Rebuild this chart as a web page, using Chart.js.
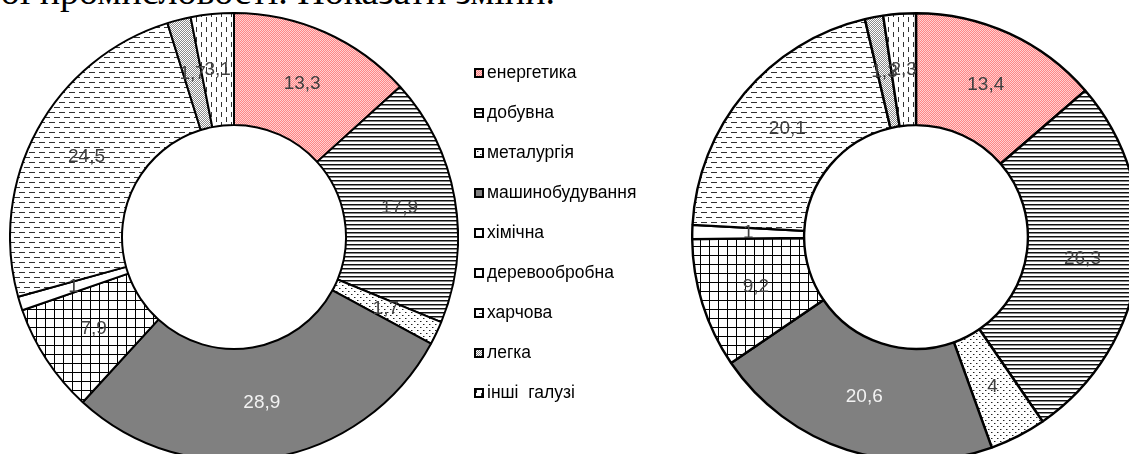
<!DOCTYPE html>
<html lang="uk">
<head>
<meta charset="utf-8">
<script src="https://cdn.jsdelivr.net/npm/chart.js@4"></script>
<style>
    html, body {
        margin: 0;
        padding: 0;
        width: 1129px;
        height: 454px;
        overflow: hidden;
        background: #fff;
        position: relative;
    }
    .title {
        position: absolute;
        left: -36px;
        top: -28px;
        font: 38px/38px "Liberation Serif", "Times New Roman", serif;
        color: #000;
        white-space: nowrap;
    }
    .chart-box {
        position: absolute;
        width: 450px;
        height: 450px;
        top: 12px;
    }
    #boxBefore { left: 9px; }
    #boxAfter { left: 691px; }
    .legend {
        position: absolute;
        left: 474px;
        top: 62px;
        font: 17.5px "Liberation Sans", Arial, sans-serif;
        color: #000;
    }
    .legend-item {
        height: 40px;
        display: flex;
        align-items: flex-start;
        white-space: pre;
    }
    .legend-item canvas {
        margin-top: 6px;
        margin-right: 3px;
    }
</style>
</head>
<body>
<div class="title">ової промисловості. Показати зміни.</div>
<div class="chart-box" id="boxBefore"><canvas id="chartBefore"></canvas></div>
<div class="legend" id="legend"></div>
<div class="chart-box" id="boxAfter"><canvas id="chartAfter"></canvas></div>

<script>
// Branch structure, % (left chart - before, right chart - after)
const categories = ['енергетика', 'добувна', 'металургія', 'машинобудування', 'хімічна',
    'деревообробна', 'харчова', 'легка', 'інші  галузі'];
const valuesBefore = [13.3, 17.9, 1.7, 28.9, 7.9, 1, 24.5, 1.7, 3.1];
const valuesAfter = [13.4, 26.3, 4, 20.6, 9.2, 1, 20.1, 1.3, 2.3];

/**
 * Build a repeating fill pattern from a small tile
 */
function makePattern(w, h, draw) {
    const tile = document.createElement('canvas');
    tile.width = w;
    tile.height = h;
    const t = tile.getContext('2d');
    t.fillStyle = '#fff';
    t.fillRect(0, 0, w, h);
    draw(t);
    return t.createPattern(tile, 'repeat');
}

const fills = [
    // енергетика - pink dotted
    makePattern(2, 2, t => {
        t.fillStyle = '#ffd0d0';
        t.fillRect(0, 0, 2, 2);
        t.fillStyle = '#ff8484';
        t.fillRect(0, 0, 1, 1);
        t.fillRect(1, 1, 1, 1);
    }),
    // добувна - horizontal lines
    makePattern(4, 4, t => {
        t.fillStyle = '#111';
        t.fillRect(0, 0, 4, 1);
        t.fillStyle = '#888';
        t.fillRect(0, 1, 4, 1);
    }),
    // металургія - sparse dots
    makePattern(6, 6, t => {
        t.fillStyle = '#222';
        t.fillRect(0, 0, 1, 1);
        t.fillRect(3, 3, 1, 1);
        t.fillStyle = '#999';
        t.fillRect(1, 0, 1, 1);
        t.fillRect(4, 3, 1, 1);
    }),
    // машинобудування - solid gray
    '#808080',
    // хімічна - square grid
    makePattern(9, 9, t => {
        t.fillStyle = '#000';
        t.fillRect(0, 0, 9, 1);
        t.fillRect(0, 0, 1, 9);
    }),
    // деревообробна - white
    '#ffffff',
    // харчова - dashed horizontal
    makePattern(10, 10, t => {
        t.fillStyle = '#333';
        t.fillRect(0, 0, 6, 1);
        t.fillRect(5, 5, 5, 1);
        t.fillRect(0, 5, 1, 1);
    }),
    // легка - dense gray dots
    makePattern(2, 2, t => {
        t.fillStyle = '#8a8a8a';
        t.fillRect(0, 0, 1, 1);
        t.fillRect(1, 1, 1, 1);
    }),
    // інші галузі - vertical dashes
    makePattern(10, 10, t => {
        t.fillStyle = '#333';
        t.fillRect(2, 0, 1, 5);
        t.fillRect(7, 5, 1, 5);
    })
];

const labelColors = ['#404040', '#404040', '#404040', '#f2f2f2', '#404040',
    '#404040', '#404040', '#404040', '#404040'];

// Draws value labels in the middle of each ring segment
const valueLabels = {
    id: 'valueLabels',
    afterDatasetsDraw(chart) {
        const ctx = chart.ctx;
        const meta = chart.getDatasetMeta(0);
        const data = chart.data.datasets[0].data;
        ctx.save();
        ctx.font = '19px "Liberation Sans", Arial, sans-serif';
        ctx.textAlign = 'center';
        ctx.textBaseline = 'middle';
        meta.data.forEach((arc, i) => {
            const pos = arc.tooltipPosition();
            ctx.fillStyle = labelColors[i];
            ctx.fillText(String(data[i]).replace('.', ','), pos.x, pos.y);
        });
        ctx.restore();
    }
};

function makeDoughnut(id, values, border) {
    return new Chart(document.getElementById(id), {
        type: 'doughnut',
        data: {
            labels: categories,
            datasets: [{
                data: values,
                backgroundColor: fills,
                borderColor: '#000',
                borderWidth: border,
                hoverOffset: 0
            }]
        },
        options: {
            responsive: true,
            maintainAspectRatio: false,
            animation: false,
            cutout: '50%',
            layout: { padding: 0 },
            plugins: {
                legend: { display: false },
                tooltip: { enabled: false }
            }
        },
        plugins: [valueLabels]
    });
}

makeDoughnut('chartBefore', valuesBefore, 2);
makeDoughnut('chartAfter', valuesAfter, 2.4);

// Shared legend between the two rings
const legend = document.getElementById('legend');
categories.forEach((name, i) => {
    const item = document.createElement('div');
    item.className = 'legend-item';
    const box = document.createElement('canvas');
    box.width = 10;
    box.height = 10;
    const b = box.getContext('2d');
    b.fillStyle = fills[i];
    b.fillRect(0, 0, 10, 10);
    b.strokeStyle = '#000';
    b.lineWidth = 2;
    b.strokeRect(1, 1, 8, 8);
    item.appendChild(box);
    item.appendChild(document.createTextNode(name));
    legend.appendChild(item);
});
</script>
</body>
</html>
